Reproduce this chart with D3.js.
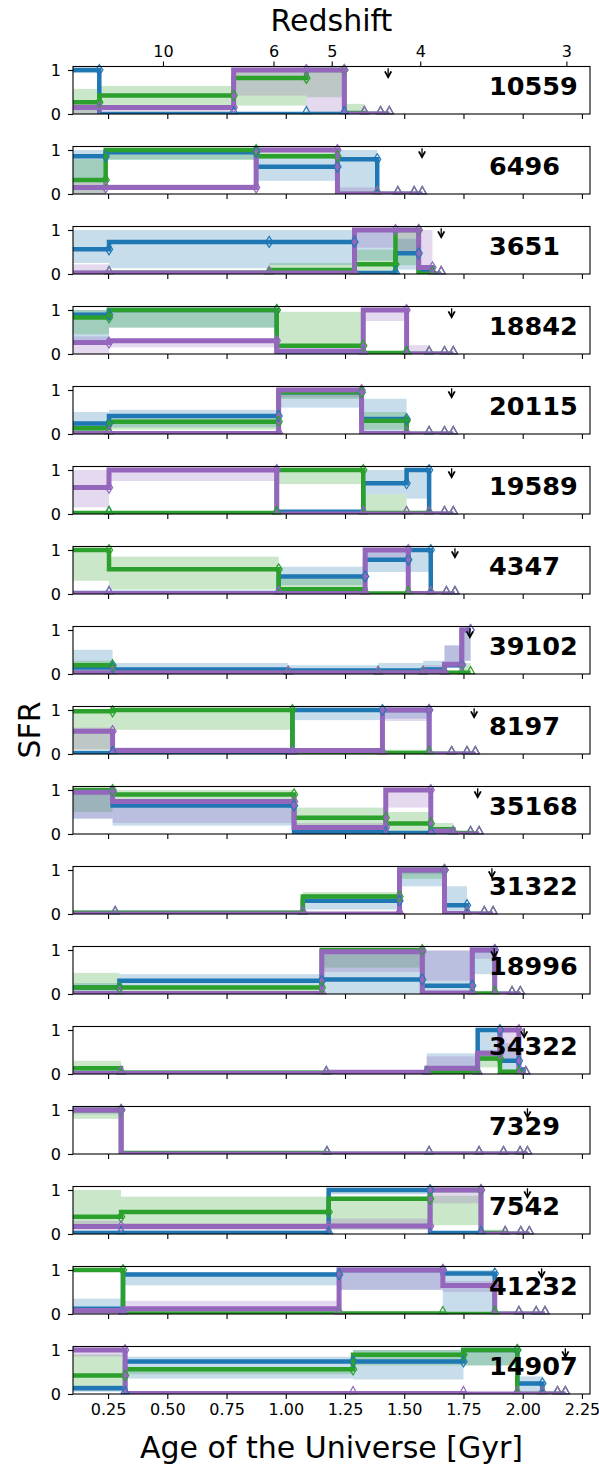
<!DOCTYPE html>
<html><head><meta charset="utf-8">
<script src="https://cdn.jsdelivr.net/npm/d3@7"></script>
<style>body{margin:0;background:#fff}text{font-family:"DejaVu Sans",sans-serif}</style>
</head><body><svg id="c" width="599" height="1469"></svg>
<script>
// ---------------- data ----------------
const galaxyIds = ["10559","6496","3651","18842","20115","19589","4347","39102","8197","35168","31322","18996","34322","7329","7542","41232","14907"];
// right edges (age of the Universe, Gyr) of the 7 SFH bins per galaxy; first bin starts at 0
const binEdges = [
  [0.213,0.780,1.087,1.247,1.332,1.400,1.437],
  [0.240,0.875,1.218,1.386,1.473,1.542,1.576],
  [0.254,0.930,1.290,1.463,1.561,1.619,1.656],
  [0.254,0.962,1.327,1.510,1.605,1.670,1.707],
  [0.254,0.970,1.320,1.510,1.605,1.670,1.707],
  [0.254,0.962,1.327,1.510,1.605,1.670,1.707],
  [0.254,0.970,1.335,1.517,1.612,1.678,1.714],
  [0.269,1.010,1.390,1.580,1.670,1.743,1.780],
  [0.269,1.028,1.408,1.605,1.700,1.765,1.800],
  [0.269,1.035,1.422,1.612,1.707,1.780,1.816],
  [0.280,1.072,1.480,1.670,1.765,1.838,1.875],
  [0.298,1.152,1.576,1.787,1.882,1.955,1.990],
  [0.305,1.171,1.595,1.810,1.904,1.984,2.013],
  [0.305,1.174,1.605,1.816,1.919,1.989,2.020],
  [0.305,1.181,1.609,1.824,1.926,1.992,2.028],
  [0.313,1.225,1.663,1.882,1.984,2.057,2.094],
  [0.322,1.284,1.750,1.977,2.083,2.147,2.180]
];
// observed age (down arrow)
const obsAge = [1.432,1.575,1.656,1.700,1.700,1.700,1.714,1.777,1.795,1.810,1.870,1.880,2.006,2.020,2.020,2.080,2.180];

// blue model
const blueSFR = [
  [1.00,0.00,0.00,0.00,0.00,0.00,0.00],
  [0.86,0.95,0.62,0.79,0.00,0.00,0.00],
  [0.56,0.73,0.73,0.02,0.47,0.05,0.00],
  [0.89,1.00,0.02,0.00,0.00,0.00,0.00],
  [0.24,0.41,0.95,0.34,0.00,0.00,0.00],
  [0.01,0.01,0.05,0.70,1.00,0.00,0.00],
  [0.02,0.02,0.40,0.78,1.00,0.00,0.00],
  [0.15,0.10,0.08,0.08,0.10,0.20,1.00],
  [0.02,0.02,1.00,1.00,0.00,0.00,0.00],
  [0.96,0.65,0.04,0.02,0.00,0.00,0.00],
  [0.02,0.02,0.30,1.00,0.20,0.00,0.00],
  [0.15,0.30,0.33,0.19,1.00,0.00,0.00],
  [0.02,0.02,0.02,0.05,1.00,0.30,0.10],
  [1.00,0.00,0.00,0.00,0.00,0.00,0.00],
  [0.02,0.02,1.00,0.02,0.00,0.00,0.00],
  [0.12,0.90,1.00,0.92,0.00,0.00,0.00],
  [0.13,0.74,0.74,1.00,0.24,0.00,0.00]
];
const blueLo = [
  [0.93,0.00,0.00,0.00,0.00,0.00,0.00],
  [0.35,0.78,0.30,0.00,0.00,0.00,0.00],
  [0.25,0.13,0.20,0.30,0.10,0.00,0.00],
  [0.30,0.60,0.00,0.00,0.00,0.00,0.00],
  [0.00,0.15,0.60,0.05,0.00,0.00,0.00],
  [0.00,0.00,0.00,0.45,0.35,0.00,0.00],
  [0.00,0.00,0.20,0.50,0.50,0.00,0.00],
  [0.02,0.02,0.02,0.02,0.05,0.15,0.30],
  [0.00,0.00,0.77,0.80,0.00,0.00,0.00],
  [0.35,0.19,0.00,0.00,0.00,0.00,0.00],
  [0.00,0.00,0.10,0.63,0.07,0.00,0.00],
  [0.05,0.20,0.00,0.05,0.45,0.00,0.00],
  [0.00,0.00,0.00,0.06,0.30,0.00,0.00],
  [0.95,0.00,0.00,0.00,0.00,0.00,0.00],
  [0.00,0.00,0.90,0.00,0.00,0.00,0.00],
  [0.00,0.65,0.55,0.05,0.00,0.00,0.00],
  [0.05,0.35,0.33,0.65,0.05,0.00,0.00]
];
const blueHi = [
  [1.00,0.03,0.03,0.05,0.02,0.01,0.01],
  [1.00,1.00,0.86,1.00,0.02,0.01,0.01],
  [1.00,1.00,1.00,1.00,0.80,0.20,0.02],
  [1.00,1.00,0.05,0.02,0.01,0.01,0.01],
  [0.50,0.55,1.00,0.80,0.02,0.01,0.01],
  [0.03,0.03,0.08,1.00,1.00,0.02,0.01],
  [0.04,0.04,0.62,1.00,1.00,0.02,0.01],
  [0.55,0.25,0.20,0.25,0.30,0.65,1.00],
  [0.05,0.05,1.00,1.00,0.02,0.01,0.01],
  [1.00,0.80,0.08,0.05,0.02,0.01,0.01],
  [0.04,0.04,0.45,1.00,0.63,0.02,0.01],
  [0.25,0.45,0.98,0.98,1.00,0.02,0.01],
  [0.04,0.04,0.04,0.47,1.00,0.70,0.15],
  [1.00,0.01,0.01,0.01,0.01,0.01,0.01],
  [0.05,0.05,1.00,0.05,0.01,0.01,0.01],
  [0.35,0.95,1.00,1.00,0.02,0.01,0.01],
  [0.20,0.85,1.00,1.00,0.40,0.02,0.01]
];

// green model
const greenSFR = [
  [0.27,0.42,0.82,1.00,0.02,0.00,0.00],
  [0.32,1.00,0.86,0.00,0.00,0.00,0.00],
  [0.02,0.03,0.09,0.22,1.00,0.00,0.00],
  [0.83,1.00,0.19,0.02,0.00,0.00,0.00],
  [0.13,0.28,0.95,0.30,0.00,0.00,0.00],
  [0.02,0.02,1.00,0.02,0.02,0.00,0.00],
  [1.00,0.56,0.11,0.01,0.00,0.00,0.00],
  [0.20,0.03,0.03,0.03,0.03,0.03,0.03],
  [0.97,1.00,0.02,0.02,0.00,0.00,0.00],
  [1.00,0.90,0.37,0.24,0.11,0.02,0.00],
  [0.03,0.03,0.40,1.00,0.00,0.00,0.00],
  [0.15,0.15,1.00,0.01,0.01,0.00,0.00],
  [0.13,0.03,0.03,0.04,0.35,0.05,0.00],
  [1.00,0.02,0.00,0.00,0.00,0.00,0.00],
  [0.39,0.50,0.80,1.00,0.02,0.00,0.00],
  [1.00,0.01,0.01,0.00,0.00,0.00,0.00],
  [0.42,0.56,0.89,1.00,0.00,0.00,0.00]
];
const greenLo = [
  [0.00,0.19,0.19,0.38,0.00,0.00,0.00],
  [0.00,0.78,0.80,0.00,0.00,0.00,0.00],
  [0.00,0.00,0.00,0.05,0.20,0.00,0.00],
  [0.45,0.60,0.15,0.00,0.00,0.00,0.00],
  [0.00,0.10,0.80,0.10,0.00,0.00,0.00],
  [0.00,0.00,0.68,0.00,0.00,0.00,0.00],
  [0.30,0.10,0.05,0.00,0.00,0.00,0.00],
  [0.05,0.00,0.00,0.00,0.00,0.00,0.00],
  [0.10,0.55,0.00,0.00,0.00,0.00,0.00],
  [0.50,0.70,0.20,0.05,0.00,0.00,0.00],
  [0.00,0.00,0.30,0.80,0.00,0.00,0.00],
  [0.07,0.00,0.60,0.00,0.00,0.00,0.00],
  [0.05,0.00,0.00,0.00,0.15,0.00,0.00],
  [0.80,0.00,0.00,0.00,0.00,0.00,0.00],
  [0.20,0.20,0.10,0.20,0.00,0.00,0.00],
  [0.97,0.00,0.00,0.00,0.00,0.00,0.00],
  [0.10,0.45,0.65,0.65,0.00,0.00,0.00]
];
const greenHi = [
  [0.57,0.64,1.00,0.95,0.23,0.02,0.01],
  [0.79,1.00,0.95,0.02,0.01,0.01,0.01],
  [0.05,0.08,0.25,0.55,1.00,0.10,0.02],
  [1.00,1.00,0.96,0.05,0.02,0.01,0.01],
  [0.25,0.35,1.00,0.50,0.02,0.01,0.01],
  [0.04,0.04,1.00,0.45,0.04,0.01,0.01],
  [1.00,0.85,0.35,0.03,0.01,0.01,0.01],
  [0.30,0.05,0.05,0.05,0.05,0.05,0.25],
  [1.00,0.98,0.10,0.10,0.02,0.01,0.01],
  [1.00,1.00,0.60,0.50,0.25,0.05,0.01],
  [0.05,0.05,0.50,1.00,0.02,0.01,0.01],
  [0.48,0.20,1.00,0.03,0.03,0.01,0.01],
  [0.30,0.05,0.05,0.06,0.50,0.10,0.01],
  [1.00,0.06,0.01,0.01,0.01,0.01,0.01],
  [1.00,0.85,0.85,0.87,0.10,0.01,0.01],
  [1.00,0.03,0.03,0.01,0.01,0.01,0.01],
  [0.90,0.60,1.00,1.00,0.02,0.01,0.01]
];

// purple model
const purpleSFR = [
  [0.15,0.15,1.00,1.00,0.00,0.00,0.00],
  [0.15,0.15,1.00,0.00,0.00,0.00,0.00],
  [0.02,0.02,0.02,1.00,1.00,0.15,0.00],
  [0.26,0.30,0.07,1.00,0.00,0.00,0.00],
  [0.01,0.01,1.00,0.01,0.00,0.00,0.00],
  [0.60,1.00,0.00,0.00,0.00,0.00,0.00],
  [0.01,0.01,0.01,1.00,0.01,0.00,0.00],
  [0.03,0.03,0.03,0.03,0.05,0.22,1.00],
  [0.52,0.08,0.08,1.00,0.00,0.00,0.00],
  [0.95,0.74,0.15,1.00,0.07,0.00,0.00],
  [0.00,0.00,0.00,1.00,0.01,0.00,0.00],
  [0.01,0.01,0.96,0.02,1.00,0.00,0.00],
  [0.01,0.01,0.04,0.13,0.47,1.00,0.00],
  [1.00,0.00,0.00,0.00,0.00,0.00,0.00],
  [0.17,0.17,0.18,1.00,0.00,0.00,0.00],
  [0.08,0.12,1.00,0.65,0.00,0.00,0.00],
  [1.00,0.01,0.01,0.00,0.00,0.00,0.00]
];
const purpleLo = [
  [0.00,0.05,0.42,0.04,0.00,0.00,0.00],
  [0.00,0.10,0.95,0.00,0.00,0.00,0.00],
  [0.00,0.00,0.00,0.60,0.50,0.00,0.00],
  [0.00,0.15,0.00,0.75,0.00,0.00,0.00],
  [0.00,0.00,0.83,0.00,0.00,0.00,0.00],
  [0.15,0.75,0.00,0.00,0.00,0.00,0.00],
  [0.00,0.00,0.00,0.80,0.00,0.00,0.00],
  [0.00,0.00,0.00,0.00,0.02,0.15,0.30],
  [0.10,0.00,0.00,0.75,0.00,0.00,0.00],
  [0.35,0.25,0.05,0.60,0.00,0.00,0.00],
  [0.00,0.00,0.00,0.90,0.00,0.00,0.00],
  [0.00,0.00,0.50,0.30,0.80,0.00,0.00],
  [0.00,0.00,0.00,0.05,0.30,0.30,0.00],
  [0.90,0.00,0.00,0.00,0.00,0.00,0.00],
  [0.05,0.05,0.10,0.70,0.00,0.00,0.00],
  [0.00,0.10,0.55,0.50,0.00,0.00,0.00],
  [0.85,0.00,0.00,0.00,0.00,0.00,0.00]
];
const purpleHi = [
  [0.30,0.20,1.00,0.95,0.02,0.01,0.01],
  [0.30,0.22,1.00,0.15,0.01,0.01,0.01],
  [0.22,0.05,0.05,1.00,1.00,1.00,0.02],
  [0.40,0.35,0.10,1.00,0.20,0.01,0.01],
  [0.03,0.03,1.00,0.03,0.01,0.01,0.01],
  [1.00,1.00,0.05,0.02,0.01,0.01,0.01],
  [0.03,0.03,0.03,1.00,0.03,0.01,0.01],
  [0.06,0.06,0.06,0.06,0.20,0.65,1.00],
  [0.60,0.15,0.05,1.00,0.02,0.01,0.01],
  [0.95,0.75,0.25,1.00,0.15,0.01,0.01],
  [0.02,0.02,0.02,1.00,0.03,0.01,0.01],
  [0.03,0.03,1.00,1.00,1.00,0.01,0.01],
  [0.03,0.03,0.06,0.40,0.55,1.00,0.01],
  [1.00,0.01,0.01,0.01,0.01,0.01,0.01],
  [0.30,0.25,0.35,1.00,0.02,0.01,0.01],
  [0.15,0.30,1.00,0.75,0.02,0.01,0.01],
  [1.00,0.03,0.03,0.01,0.01,0.01,0.01]
];

const ageTicks = [0.25,0.50,0.75,1.00,1.25,1.50,1.75,2.00,2.25];
const redshiftTicks = [10,6,5,4,3];
const sfrTicks = [0,1];

// ---------------- drawing ----------------
const svg = d3.select("#c");
const L = 73, R = 590, top0 = 66.5, panelH = 47.5, stepY = 80;
const x = d3.scaleLinear().domain([0.102, 2.284]).range([L, R]);

// age of the Universe at redshift z (flat LCDM)
function ageAtZ(z){
  const H0 = 67.7, Om = 0.30, OL = 1 - Om;
  const tH = 977.8 / H0;
  return tH * 2 / (3 * Math.sqrt(OL)) * Math.asinh(Math.sqrt(OL / Om) * Math.pow(1 + z, -1.5));
}

const series = [
  {color:"#1f77b4", v:blueSFR, lo:blueLo, hi:blueHi, w:4.5},
  {color:"#2ca02c", v:greenSFR, lo:greenLo, hi:greenHi, w:4.5},
  {color:"#9467bd", v:purpleSFR, lo:purpleLo, hi:purpleHi, w:5}
];

const diamond = "M0,-5.5L3.6,0L0,5.5L-3.6,0Z";
const triangle = "M0,-4L4,3.2L-4,3.2Z";

galaxyIds.forEach((gid, p) => {
  const top = top0 + p * stepY, bot = top + panelH;
  const y = d3.scaleLinear().domain([0, 1.08]).range([bot, top]);
  const g = svg.append("g");
  const cid = "clip" + p;
  svg.append("clipPath").attr("id", cid).append("rect")
    .attr("x", L).attr("y", top).attr("width", R - L).attr("height", panelH);
  const plot = g.append("g").attr("clip-path", `url(#${cid})`);
  const edges = binEdges[p];
  const starts = [0].concat(edges.slice(0, -1));

  // bands
  series.forEach(s => {
    plot.append("g").selectAll("rect").data(edges).join("rect")
      .attr("x", (d, i) => x(starts[i]))
      .attr("width", (d, i) => x(d) - x(starts[i]))
      .attr("y", (d, i) => y(s.hi[p][i]))
      .attr("height", (d, i) => Math.max(0, y(s.lo[p][i]) - y(s.hi[p][i])))
      .attr("fill", s.color).attr("fill-opacity", 0.25);
  });
  // step lines
  series.forEach(s => {
    const pts = [];
    edges.forEach((e, i) => { pts.push([starts[i], s.v[p][i]]); pts.push([e, s.v[p][i]]); });
    plot.append("path")
      .attr("d", d3.line().x(d => x(d[0])).y(d => y(d[1]))(pts))
      .attr("fill", "none").attr("stroke", s.color).attr("stroke-width", s.w)
      .attr("stroke-linejoin", "miter");
  });
  // markers at bin edges
  series.forEach(s => {
    g.append("g").selectAll("path").data(edges).join("path")
      .attr("transform", (d, i) => `translate(${x(d)},${s.v[p][i] >= 0.14 ? y(s.v[p][i]) : y(0) - 3.5})`)
      .attr("d", (d, i) => s.v[p][i] >= 0.14 ? diamond : triangle)
      .attr("fill", "none").attr("stroke", s.color).attr("stroke-width", 1.2);
  });
  // observation arrow
  const ax = x(obsAge[p]);
  g.append("line").attr("x1", ax).attr("x2", ax).attr("y1", y(1.04)).attr("y2", y(0.84))
    .attr("stroke", "#000").attr("stroke-width", 1.3);
  g.append("path").attr("d", `M${ax-3.2},${y(0.97)}L${ax},${y(0.84)}L${ax+3.2},${y(0.97)}`)
    .attr("fill", "none").attr("stroke", "#000").attr("stroke-width", 1.8);

  // frame
  g.append("rect").attr("x", L).attr("y", top).attr("width", R - L).attr("height", panelH)
    .attr("fill", "none").attr("stroke", "#000").attr("stroke-width", 1.1);

  // y axis
  const ya = g.append("g").attr("transform", `translate(${L},0)`)
    .call(d3.axisLeft(y).tickValues(sfrTicks).tickFormat(d3.format("d")).tickSize(5).tickPadding(7));
  ya.select(".domain").remove();
  ya.selectAll("text").style("font-size", "16px").style("font-family", "DejaVu Sans");
  ya.selectAll("line").attr("stroke-width", 1.1);

  // x axis ticks
  const last = p === galaxyIds.length - 1;
  const xa = g.append("g").attr("transform", `translate(0,${bot})`)
    .call(d3.axisBottom(x).tickValues(ageTicks).tickFormat(last ? d3.format(".2f") : "").tickSize(5).tickPadding(5));
  xa.select(".domain").remove();
  xa.selectAll("text").style("font-size", "16px").style("font-family", "DejaVu Sans");
  xa.selectAll("line").attr("stroke-width", 1.1);

  if (p === 0) {
    const zx = d3.scaleLinear().domain(x.domain()).range(x.range());
    const ta = g.append("g").attr("transform", `translate(0,${top})`)
      .call(d3.axisTop(zx).tickValues(redshiftTicks.map(ageAtZ))
        .tickFormat((d, i) => redshiftTicks[i]).tickSize(5).tickPadding(5));
    ta.select(".domain").remove();
    ta.selectAll("text").style("font-size", "16px").style("font-family", "DejaVu Sans");
    ta.selectAll("line").attr("stroke-width", 1.1);
  }

  // galaxy id
  g.append("text").attr("x", 489).attr("y", top + 28.5).text(gid)
    .style("font-size", "25.5px").style("font-weight", "bold").attr("fill", "#000");
});

// axis titles
svg.append("text").attr("x", (L + R) / 2).attr("y", 31).attr("text-anchor", "middle")
  .style("font-size", "30px").text("Redshift");
svg.append("text").attr("x", (L + R) / 2).attr("y", 1458).attr("text-anchor", "middle")
  .style("font-size", "30px").text("Age of the Universe [Gyr]");
svg.append("text").attr("transform", `translate(40,730) rotate(-90)`).attr("text-anchor", "middle")
  .style("font-size", "30px").text("SFR");
</script>
</body></html>
